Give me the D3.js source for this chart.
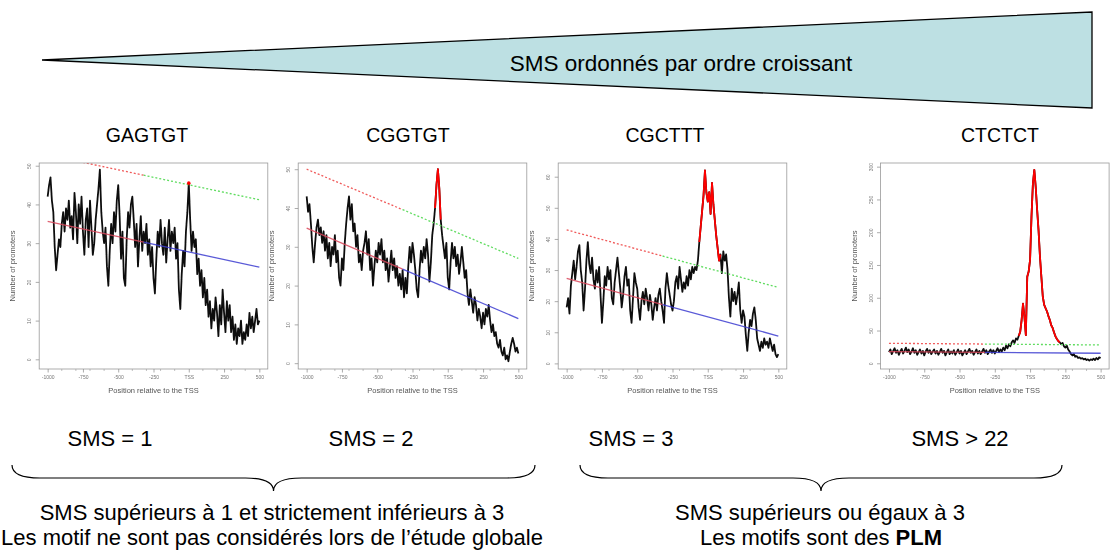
<!DOCTYPE html>
<html><head><meta charset="utf-8">
<script src="https://cdn.jsdelivr.net/npm/d3@7"></script>
<style>
html,body{margin:0;padding:0;background:#fff;overflow:hidden;}
svg{display:block;font-family:"Liberation Sans",Arial,sans-serif;}
</style></head><body>
<svg id="chart" width="1110" height="551"></svg>
<script>
// Positions relative to the TSS (step 10 bp)
const positions = d3.range(-1000, 501, 10);

const motifs = ["GAGTGT", "CGGTGT", "CGCTTT", "CTCTCT"];
const smsLabels = ["SMS = 1", "SMS = 2", "SMS = 3", "SMS > 22"];

// Number of promoters carrying the motif at each position
const countsGAGTGT = [
  42,45,47,41,38,29,23,27,31,29,
  35,38,33,39,36,41,34,37,31,43,
  38,30,40,35,42,33,27,36,39,29,
  41,34,27,30,36,40,44,49,38,33,
  30,34,24,19,28,35,30,38,33,41,
  45,37,26,33,21,19,31,38,34,40,
  42,36,29,35,24,31,37,28,33,30,
  35,27,31,24,29,21,17,26,33,29,
  36,30,27,34,25,31,36,28,33,30,
  34,26,30,18,13,22,28,24,33,38,
  45.5,36,28,33,29,31,22,26,19,23,
  16,21,14,18,11,15,8,13,10,16,
  12,6,14,9,18,12,7,15,10,14,
  7,11,5,9,4,8,6,10,4,7,
  5,9,6,12,8,11,7,10,13,9,10
];
const countsCGGTGT = [
  43,39,41,36,30,26,31,35,37,33,
  35,31,34,29,33,27,31,25,30,28,
  33,26,29,22,20,27,24,31,36,40,
  43,37,41,34,36,30,33,26,28,24,
  29,31,34,28,32,24,27,20,25,29,
  26,31,28,32,26,29,24,27,21,25,
  29,24,27,22,25,20,23,19,24,17,
  22,18,25,30,26,31,28,24,19,17,
  24,29,26,30,27,32,28,21,26,33,
  36,40,46,50,45,37,33,30,27,31,
  22,19,26,31,27,30,25,28,23,26,
  30,26,22,24,18,15,19,16,13,17,
  15,11,14,12,9,13,10,14,12,15,
  11,8,10,7,8,5,4,6,3,2,
  4,1,2,0.5,3,5,6.5,5,3,4,2.5
];
const countsCGCTTT = [
  18,21,16,25,29,33,27,31,36,38,
  30,26,17,24,33,39,32,29,34,27,
  24,30,26,31,22,13,20,28,25,31,
  27,30,21,19,26,30,34,29,24,18,
  22,28,31,25,27,17,13,21,29,26,
  24,18,14,20,23,19,24,21,17,22,
  19,14,18,21,17,22,24,20,17,13,
  24,29,25,22,19,17,20,26,28,24,
  31,27,23,26,24,28,25,30,27,31,
  29,31,30,33,39,44,49,54,62,55,
  52,55,48,58,51,46,41,37,33,35,
  29,36,33,35,30,21,15,24,20,23,
  19,22,26,17,13,17,15,9,4,10,
  14,12,16,18,14,8,6,4,7,5,
  8,6,7,5,8,6,4,6,3,2,3
];
const countsCTCTCT = [
  17,21,14,19,23,16,20,13,18,22,
  15,19,24,17,21,14,18,23,16,20,
  13,17,21,15,19,12,18,22,16,20,
  14,18,21,15,19,13,17,22,16,19,
  12,17,21,14,18,15,20,13,17,21,
  15,19,12,16,20,14,18,22,16,19,
  13,17,21,15,19,14,18,22,16,20,
  14,18,21,16,20,15,19,23,17,21,
  18,24,20,27,23,29,26,32,35,31,
  38,36,42,48,66,91,71,43,132,140,
  158,224,274,295,269,234,203,163,132,102,
  89,84,79,72,66,58,54,47,41,37,
  34,32,29,31,26,24,27,21,18,14,
  12,14,10,11,8,9,7,8,6,7,
  5,6,4,6,5,7,5,8,6,9,8
];

// Regression line (values at -1000 and +500) and the upper threshold line
const trendFrom = [35.6, 34.8, 27.3, 17.8];
const trendTo = [23.8, 11.5, 8.8, 15.3];
const thresholdFrom = [52.8, 50.0, 42.9, 30.5];
const thresholdTo = [41.2, 27.0, 24.4, 28.0];
const trendSplit = -320;

// Region flagged as over-represented (drawn in red)
const peakRanges = [[0, 0], [-90, -50], [-60, 90], [-80, 210]];

const yTickValues = [
  [0, 10, 20, 30, 40, 50],
  [0, 10, 20, 30, 40, 50],
  [0, 10, 20, 30, 40, 50, 60],
  [0, 50, 100, 150, 200, 250, 300]
];
const yDomains = [[-2.5, 50.7], [-1.5, 51.6], [-1.8, 64.4], [-8.7, 305.6]];
const xTickValues = [-1000, -750, -500, -250, 0, 250, 500];
const xTickLabels = ["-1000", "-750", "-500", "-250", "TSS", "250", "500"];
const xMinorTicks = d3.range(-1000, 501, 100).filter(v => !xTickValues.includes(v));

const svg = d3.select("#chart");
const defs = svg.append("defs");
defs.append("filter").attr("id", "soft")
  .attr("x", "-5%").attr("y", "-5%").attr("width", "110%").attr("height", "110%")
  .append("feGaussianBlur").attr("stdDeviation", 0.45);

// ---- wedge banner ----
svg.append("polygon")
  .attr("points", [[42, 60], [1092, 12], [1092, 108]].map(p => p.join(",")).join(" "))
  .attr("fill", "#bde0e3").attr("stroke", "#000").attr("stroke-width", 1.3);
svg.append("text").attr("x", 681).attr("y", 71).attr("text-anchor", "middle")
  .attr("font-size", 22.5).attr("fill", "#000").text("SMS ordonnés par ordre croissant");

// ---- panels ----
const panelLeft = [39.2, 298.2, 558.2, 880.5];
const boxW = 228.6, boxTop = 163, boxBottom = 369;
const titleX = [147, 408, 665, 1000];
const smsX = [110, 371, 631, 960];
const series = [countsGAGTGT, countsCGGTGT, countsCGCTTT, countsCTCTCT];

series.forEach((values, i) => {
  const left = panelLeft[i];
  const x = d3.scaleLinear().domain([-1060, 560]).range([left, left + boxW]);
  const y = d3.scaleLinear().domain(yDomains[i]).range([boxBottom, boxTop]);

  svg.append("text").attr("x", titleX[i]).attr("y", 142).attr("text-anchor", "middle")
    .attr("font-size", 19.5).attr("fill", "#000").text(motifs[i]);
  svg.append("text").attr("x", smsX[i]).attr("y", 446).attr("text-anchor", "middle")
    .attr("font-size", 22).attr("fill", "#000").text(smsLabels[i]);

  const g = svg.append("g").attr("filter", "url(#soft)");
  const clipId = "clip" + i;
  defs.append("clipPath").attr("id", clipId).append("rect")
    .attr("x", left).attr("y", boxTop).attr("width", boxW).attr("height", boxBottom - boxTop);
  const plot = g.append("g").attr("clip-path", `url(#${clipId})`);

  const pts = positions.map((p, k) => [p, values[k]]);
  const line = d3.line().x(d => x(d[0])).y(d => y(d[1]));

  plot.append("path").attr("d", line(pts)).attr("fill", "none")
    .attr("stroke", "#111").attr("stroke-width", 1.8).attr("stroke-linejoin", "round");

  const lin = (a, b) => p => a + (b - a) * (p + 1000) / 1500;
  const trend = lin(trendFrom[i], trendTo[i]);
  const thr = lin(thresholdFrom[i], thresholdTo[i]);
  const seg = (f, a, b) => [[a, f(a)], [b, f(b)]];

  plot.append("path").attr("d", line(seg(trend, -1000, trendSplit)))
    .attr("stroke", "#d9475a").attr("stroke-width", 1.3).attr("fill", "none").attr("opacity", 0.85);
  plot.append("path").attr("d", line(seg(trend, trendSplit, 500)))
    .attr("stroke", "#3c3cd0").attr("stroke-width", 1.3).attr("fill", "none").attr("opacity", 0.85);
  plot.append("path").attr("d", line(seg(thr, -1000, trendSplit)))
    .attr("stroke", "#f05a5a").attr("stroke-width", 1.3).attr("stroke-dasharray", "2,2").attr("fill", "none");
  plot.append("path").attr("d", line(seg(thr, trendSplit, 500)))
    .attr("stroke", "#5fdc5f").attr("stroke-width", 1.3).attr("stroke-dasharray", "2,2").attr("fill", "none");

  const [pa, pb] = peakRanges[i];
  const peak = pts.filter(d => d[0] >= pa && d[0] <= pb);
  if (peak.length > 1) {
    plot.append("path").attr("d", line(peak)).attr("fill", "none")
      .attr("stroke", "#ff0000").attr("stroke-width", 1.8).attr("stroke-linejoin", "round");
  } else {
    plot.selectAll("circle.peak").data(peak).join("circle").attr("class", "peak")
      .attr("cx", d => x(d[0])).attr("cy", d => y(d[1])).attr("r", 1.8).attr("fill", "#ff0000");
  }

  // frame
  g.append("rect").attr("x", left).attr("y", boxTop).attr("width", boxW).attr("height", boxBottom - boxTop)
    .attr("fill", "none").attr("stroke", "#999").attr("stroke-width", 0.8);

  // x axis
  const xa = g.append("g").attr("transform", `translate(0,${boxBottom})`)
    .call(d3.axisBottom(x).tickValues(xTickValues).tickSize(3.5).tickPadding(3)
      .tickFormat((d, k) => xTickLabels[k]));
  xa.select(".domain").remove();
  xa.selectAll("line").attr("stroke", "#888").attr("stroke-width", 0.7);
  xa.selectAll("text").attr("font-size", 5).attr("fill", "#777").attr("font-family", "Liberation Sans, Arial, sans-serif");
  g.selectAll("line.minor").data(xMinorTicks).join("line").attr("class", "minor")
    .attr("x1", d => x(d)).attr("x2", d => x(d)).attr("y1", boxBottom).attr("y2", boxBottom + 2)
    .attr("stroke", "#999").attr("stroke-width", 0.6);

  // y axis
  const ya = g.append("g").attr("transform", `translate(${left},0)`)
    .call(d3.axisLeft(y).tickValues(yTickValues[i]).tickSize(3.5).tickPadding(3));
  ya.select(".domain").remove();
  ya.selectAll("line").attr("stroke", "#888").attr("stroke-width", 0.7);
  ya.selectAll("text").attr("font-size", 5).attr("fill", "#777")
    .attr("font-family", "Liberation Sans, Arial, sans-serif")
    .attr("text-anchor", "middle").attr("dy", 0).attr("x", 0)
    .attr("transform", "translate(-8,0) rotate(-90)");

  g.append("text").attr("transform", `translate(${left - 24},${(boxTop + boxBottom) / 2}) rotate(-90)`)
    .attr("text-anchor", "middle").attr("font-size", 7.5).attr("fill", "#555").text("Number of promoters");
  g.append("text").attr("x", left + boxW / 2).attr("y", 393).attr("text-anchor", "middle")
    .attr("font-size", 7.5).attr("fill", "#555").text("Position relative to the TSS");
});

// ---- braces ----
function brace(x0, x1, yTop, yTip) {
  const xm = (x0 + x1) / 2, ym = (yTop + yTip) / 2, r = 28;
  return `M${x0},${yTop} Q${x0},${ym} ${x0 + r},${ym} L${xm - r},${ym} Q${xm},${ym} ${xm},${yTip}` +
         ` Q${xm},${ym} ${xm + r},${ym} L${x1 - r},${ym} Q${x1},${ym} ${x1},${yTop}`;
}
svg.append("path").attr("d", brace(12, 535, 465, 491)).attr("fill", "none").attr("stroke", "#000").attr("stroke-width", 1.2);
svg.append("path").attr("d", brace(580, 1062, 465, 491)).attr("fill", "none").attr("stroke", "#000").attr("stroke-width", 1.2);

// ---- conclusions ----
const notes = [
  { x: 272, y: 520, text: "SMS supérieurs à 1 et strictement inférieurs à 3" },
  { x: 272, y: 545, text: "Les motif ne sont pas considérés lors de l’étude globale" },
  { x: 820, y: 520, text: "SMS supérieurs ou égaux à 3" }
];
notes.forEach(n => svg.append("text").attr("x", n.x).attr("y", n.y).attr("text-anchor", "middle")
  .attr("font-size", 22).attr("fill", "#000").text(n.text));
const plm = svg.append("text").attr("x", 821).attr("y", 545).attr("text-anchor", "middle")
  .attr("font-size", 22).attr("fill", "#000");
plm.append("tspan").text("Les motifs sont des ");
plm.append("tspan").attr("font-weight", "bold").text("PLM");
</script>
</body></html>
